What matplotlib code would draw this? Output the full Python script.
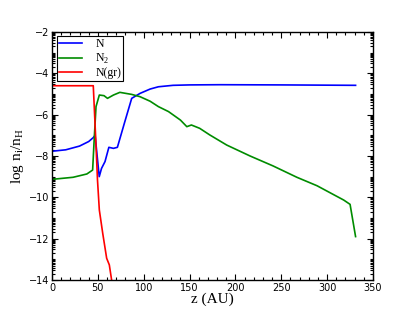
import matplotlib
matplotlib.use("Agg")
import matplotlib.pyplot as plt
import numpy as np

# abundances (z in AU, log n_i/n_H)
z_n = [0, 15, 30, 40, 45, 47, 51.5, 54, 57.8, 62, 67, 71.3, 79, 86.9, 96, 107, 116, 132, 150, 183, 250, 331]
n_n = [-7.77, -7.7, -7.52, -7.3, -7.11, -7.0, -9.0, -8.6, -8.27, -7.58, -7.63, -7.58, -6.4, -5.21, -4.97, -4.76, -4.65, -4.58, -4.56, -4.55, -4.56, -4.58]

z_n2 = [0, 23, 38, 44.3, 46, 48, 51.6, 56.7, 60.5, 67, 74, 87, 96, 107, 116, 127, 140, 147, 152, 161, 172,
        190.5, 216, 241, 267, 289, 310, 318, 325, 331]
n_n2 = [-9.13, -9.03, -8.87, -8.68, -7.2, -5.61, -5.05, -5.08, -5.21, -5.05, -4.92, -5.02, -5.13, -5.35, -5.61,
        -5.85, -6.26, -6.58, -6.5, -6.66, -6.98, -7.47, -8.0, -8.48, -9.03, -9.44, -9.94, -10.13, -10.34, -11.9]

z_gr = [0, 45, 47.5, 49.6, 51.6, 55.3, 59.6, 62.5, 65, 67]
n_gr = [-4.6, -4.6, -7.0, -9.16, -10.61, -11.74, -12.95, -13.27, -14.0, -14.6]

labels = ["N", r"N$_\mathregular{2}$", "N(gr)"]
colors = ["#0000ff", "#008c00", "#ff0000"]

plt.rcParams["font.family"] = "Liberation Serif"
plt.rcParams["mathtext.fontset"] = "custom"
plt.rcParams["mathtext.rm"] = "Liberation Serif"

fig = plt.figure(figsize=(4.15, 3.12), dpi=100)
ax = fig.add_axes([0.1253, 0.1026, 0.7735, 0.7948])

for zz, vv, lab, col in zip([z_n, z_n2, z_gr], [n_n, n_n2, n_gr], labels, colors):
    ax.plot(zz, vv, color=col, lw=1.2, label=lab)

ax.set_xlim(0, 350)
ax.set_ylim(-14, -2)
ax.set_xticks(np.arange(0, 351, 50))
ax.set_xticks(np.arange(0, 351, 10), minor=True)
ax.set_yticks(np.arange(-14, -1, 2))
minor_y = [n + np.log10(m) for n in range(-14, -2) for m in range(1, 10)]
ax.set_yticks(minor_y, minor=True)
ax.tick_params(which="both", direction="in", top=True, right=True, width=0.8)
ax.tick_params(which="major", length=4, labelsize=7, labelfontfamily="DejaVu Sans", pad=2)
ax.tick_params(which="minor", length=2)
for s in ax.spines.values():
    s.set_linewidth(1.0)

ax.set_xlabel("z (AU)", fontsize=11, labelpad=0)
ax.set_ylabel(r"log n$_\mathregular{i}$/n$_\mathregular{H}$", fontsize=11, labelpad=2)

leg = ax.legend(loc="upper left", bbox_to_anchor=(0.015, 0.982), fontsize=8.5, fancybox=False,
                edgecolor="black", framealpha=1, borderpad=0.15, handlelength=2.0, labelspacing=0.12,
                handletextpad=1.1, borderaxespad=0)
leg.get_frame().set_linewidth(0.8)

fig.savefig("out.png", dpi=100)
